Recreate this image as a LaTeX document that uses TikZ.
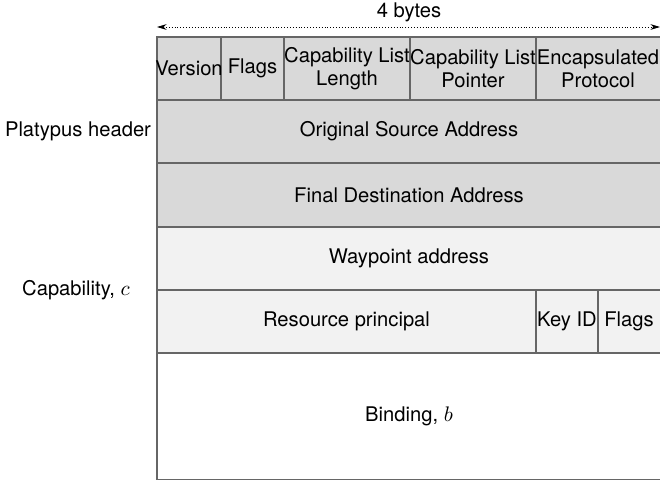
\documentclass[tikz,border=0pt]{standalone}
\usepackage{fontspec}
\setmainfont{TeX Gyre Heros}
\usetikzlibrary{arrows.meta}
\definecolor{hdrgray}{HTML}{D9D9D9}
\definecolor{capgray}{HTML}{F2F2F2}
\definecolor{rulegray}{HTML}{666666}

\begin{document}
\begin{tikzpicture}[x=0.52pt, y=-0.52pt,
  hdrfield/.style = {fill=hdrgray, draw=rulegray, line width=0.6pt},
  capfield/.style = {fill=capgray, draw=rulegray, line width=0.6pt},
  bindfield/.style = {fill=white, draw=rulegray, line width=0.6pt},
  lbl/.style = {align=center, inner sep=0pt, font=\fontsize{10.5}{11.8}\selectfont}]
\useasboundingbox (0,0) rectangle (660,480);
% header fields
\draw[hdrfield] (157,37) rectangle (221,100);
\draw[hdrfield] (221,37) rectangle (284,100);
\draw[hdrfield] (284,37) rectangle (410,100);
\draw[hdrfield] (410,37) rectangle (536,100);
\draw[hdrfield] (536,37) rectangle (662,100);
\draw[hdrfield] (157,100) rectangle (662,163);
\draw[hdrfield] (157,163) rectangle (662,227);
% capability fields
\draw[capfield] (157,227) rectangle (662,290);
\draw[capfield] (157,290) rectangle (536,353);
\draw[capfield] (536,290) rectangle (598,353);
\draw[capfield] (598,290) rectangle (662,353);
\draw[bindfield] (157,353) rectangle (662,479.5);
\node[lbl] (ver) at (189,68.5) {Version};
\node[lbl] (flg) at (252.5,68.5) {Flags};
\node[lbl] (cll) at (347,68.5) {Capability List\\Length};
\node[lbl] (clp) at (473,68.5) {Capability List\\Pointer};
\node[lbl] (enc) at (598,68.5) {Encapsulated\\Protocol};
\node[lbl] (src) at (409,131.5) {Original Source Address};
\node[lbl] (dst) at (409,195) {Final Destination Address};
\node[lbl] (way) at (409,258.5) {Waypoint address};
\node[lbl] (res) at (346.5,321.5) {Resource principal};
\node[lbl] (key) at (567,321.5) {Key ID};
\node[lbl] (cfl) at (629,321.5) {Flags};
\node[lbl] (bnd) at (409,416) {Binding, $b$};
% side labels
\node[lbl] (plat) at (78,131) {Platypus header};
\node[lbl] (capc) at (76,290) {Capability, $c$};
% width marker
\coordinate (wl) at (157,27);
\coordinate (wr) at (660,27);
\draw[densely dotted, line width=0.5pt, {Stealth[length=5pt,width=3pt]}-{Stealth[length=5pt,width=3pt]}] (wl) -- (wr);
\node[lbl] (bytes) at (409,12) {4 bytes};
\end{tikzpicture}
\end{document}
